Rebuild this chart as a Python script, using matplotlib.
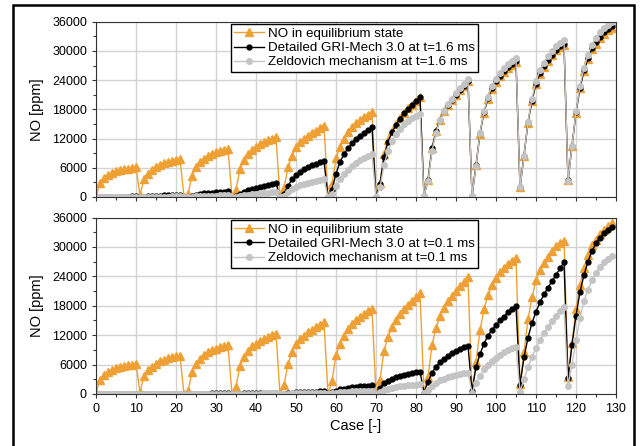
import numpy as np
import matplotlib
matplotlib.use("Agg")
import matplotlib.pyplot as plt
from matplotlib.patches import Rectangle
from matplotlib.ticker import MultipleLocator

plt.rcParams["font.family"] = ["Liberation Sans", "DejaVu Sans"]

cases = list(range(130))

# NO in equilibrium state (same in both panels), one row per sweep
no_equilibrium = [
    300, 2800, 3900, 4500, 4950, 5250, 5500, 5700, 5850, 6000, 6100,
    400, 3700, 4800, 5600, 6200, 6650, 7000, 7250, 7450, 7650, 7800,
    0, 600, 4400, 6100, 7200, 7900, 8500, 8900, 9200, 9500, 9700, 9900,
    0, 1500, 5800, 7600, 8800, 9700, 10300, 10850, 11300, 11650, 12000, 12250,
    0, 1900, 6100, 8500, 10200, 11200, 11900, 12550, 13100, 13600, 14150, 14650,
    0, 2600, 7950, 10200, 11900, 13250, 14300, 15100, 15800, 16350, 16900, 17400,
    0, 2950, 8800, 11700, 13600, 15000, 16300, 17300, 18200, 18950, 19700, 20500,
    300, 3500, 10000, 13500, 15900, 17600, 18900, 20000, 21000, 22000, 22900, 23800,
    300, 6500, 13000, 17300, 20200, 22200, 23700, 24800, 25700, 26500, 27200, 27800,
    2000, 8500, 15300, 19700, 23200, 25300, 26700, 28000, 29100, 30100, 30800, 31300,
    3400, 10500, 17300, 22300, 25800, 28300, 30300, 31500, 32600, 33500, 34200, 34800,
]

gri_16ms = [
    0, 20, 40, 50, 60, 70, 80, 90, 100, 110, 120,
    0, 80, 150, 200, 250, 290, 330, 360, 390, 420, 450,
    0, 50, 250, 450, 600, 720, 820, 900, 980, 1050, 1120, 1180,
    0, 150, 600, 1000, 1400, 1700, 1950, 2150, 2350, 2550, 2700, 2850,
    0, 700, 2300, 3600, 4500, 5200, 5700, 6150, 6550, 6850, 7150, 7400,
    0, 1500, 4800, 7200, 8800, 10000, 11000, 11900, 12600, 13200, 13800, 14400,
    0, 2700, 8300, 11300, 13300, 14800, 16100, 17200, 18100, 18900, 19700, 20500,
    300, 3500, 10000, 13500, 15900, 17600, 18900, 20000, 21000, 22000, 22900, 23900,
    300, 6500, 13100, 17400, 20300, 22300, 23800, 24900, 25800, 26600, 27300, 27900,
    2000, 8500, 15400, 19800, 23300, 25400, 26850, 28150, 29250, 30250, 30950, 31500,
    3400, 10500, 17400, 22400, 26000, 28500, 30500, 31800, 32900, 33800, 34500, 35100,
]

zeld_16ms = [
    0, 5, 10, 15, 18, 20, 22, 24, 26, 28, 30,
    0, 20, 40, 55, 70, 80, 90, 100, 110, 115, 120,
    0, 15, 70, 130, 170, 210, 240, 270, 290, 310, 330, 350,
    0, 50, 200, 350, 480, 580, 670, 750, 820, 880, 940, 1000,
    0, 300, 1000, 1600, 2050, 2400, 2700, 2950, 3150, 3300, 3450, 3600,
    0, 700, 2200, 3600, 4700, 5600, 6300, 6900, 7500, 8000, 8400, 8800,
    0, 2000, 6500, 9500, 11500, 12900, 14000, 14900, 15600, 16200, 16700, 17100,
    300, 3300, 9500, 13200, 15800, 17600, 19000, 20200, 21300, 22300, 23300, 24300,
    300, 6400, 13200, 17600, 20600, 22700, 24300, 25500, 26500, 27300, 28000, 28600,
    2000, 8400, 15500, 20200, 23800, 26000, 27600, 28900, 30000, 31000, 31700, 32300,
    3300, 10400, 17600, 22800, 26500, 29200, 31300, 32700, 33800, 34700, 35400, 35950,
]

gri_01ms = [
    0, 5, 8, 10, 12, 14, 16, 18, 20, 22, 24,
    0, 10, 20, 28, 35, 40, 45, 50, 55, 58, 60,
    0, 10, 40, 60, 75, 88, 98, 106, 113, 120, 126, 130,
    0, 20, 70, 110, 140, 160, 180, 195, 210, 225, 240, 250,
    0, 60, 180, 260, 320, 360, 400, 430, 460, 490, 510, 530,
    0, 350, 700, 950, 1100, 1250, 1350, 1450, 1550, 1650, 1730, 1800,
    0, 1300, 2200, 2750, 3150, 3450, 3700, 3900, 4100, 4250, 4400, 4550,
    300, 2500, 4300, 5600, 6500, 7200, 7800, 8300, 8800, 9200, 9550, 9850,
    600, 5500, 8100, 10300, 11900, 13050, 14100, 15000, 15800, 16700, 17400, 17950,
    1800, 7500, 11500, 14500, 16800, 18700, 20300, 21700, 23000, 24300, 25600, 26900,
    3200, 10000, 16000, 20800, 24300, 27000, 29200, 30700, 31900, 32800, 33500, 34000,
]

zeld_01ms = [
    0, 2, 4, 5, 6, 7, 8, 9, 10, 11, 12,
    0, 5, 10, 14, 17, 20, 22, 24, 26, 28, 30,
    0, 5, 18, 28, 36, 42, 47, 51, 55, 58, 61, 64,
    0, 10, 35, 55, 70, 80, 90, 98, 105, 112, 118, 124,
    0, 30, 85, 125, 155, 180, 200, 215, 230, 245, 255, 265,
    0, 150, 280, 370, 430, 480, 530, 570, 610, 640, 670, 700,
    0, 500, 850, 1050, 1250, 1400, 1530, 1640, 1740, 1820, 1890, 1950,
    150, 900, 1700, 2300, 2800, 3150, 3450, 3700, 3900, 4050, 4200, 4300,
    300, 2200, 3700, 5000, 6000, 6800, 7400, 8000, 8500, 8900, 9300, 9600,
    500, 3000, 5500, 7600, 9400, 11000, 12400, 13700, 14900, 15900, 16900, 17700,
    1600, 6000, 11000, 15500, 19000, 21300, 23200, 24700, 25900, 26900, 27600, 28200,
]

ORANGE = "#EFA035"
GREY = "#C4C4C4"
FS = 9


def draw_panel(ax, gri, zeld, t_label):
    ax.plot(cases, no_equilibrium, color=ORANGE, lw=1.0, marker="^", ms=5.5,
            mec=ORANGE, mfc=ORANGE, label="NO in equilibrium state")
    ax.plot(cases, gri, color="black", lw=1.0, marker="o", ms=3.5,
            label=f"Detailed GRI-Mech 3.0 at t={t_label} ms")
    ax.plot(cases, zeld, color=GREY, lw=1.0, marker="o", ms=4,
            label=f"Zeldovich mechanism at t={t_label} ms")

    ax.set_xlim(0, 130)
    ax.set_ylim(0, 36000)
    ax.xaxis.set_major_locator(MultipleLocator(10))
    ax.xaxis.set_minor_locator(MultipleLocator(5))
    ax.yaxis.set_major_locator(MultipleLocator(6000))
    ax.yaxis.set_minor_locator(MultipleLocator(3000))
    ax.grid(True, which="major", color="#D2D2D2", lw=1.0)
    ax.set_axisbelow(True)
    ax.tick_params(which="both", labelsize=FS, length=3, width=0.8, color="#333333")
    ax.tick_params(which="minor", length=2)
    for sp in ax.spines.values():
        sp.set_color("#333333")
        sp.set_linewidth(0.8)
    ax.set_ylabel("NO [ppm]", fontsize=10.5, labelpad=6)

    leg = ax.legend(loc="upper center", bbox_to_anchor=(0.497, 0.995), fontsize=9.6,
                    frameon=True, fancybox=False, framealpha=1, edgecolor="black",
                    handlelength=2.2, handletextpad=0.3, labelspacing=0.14,
                    borderpad=0.28, borderaxespad=0.1)
    leg.get_frame().set_linewidth(1.0)


fig = plt.figure(figsize=(6.4, 4.46), dpi=100)
ax1 = fig.add_axes([0.15, 0.5583, 0.8125, 0.3930])
ax2 = fig.add_axes([0.15, 0.1166, 0.8125, 0.3957])

draw_panel(ax1, gri_16ms, zeld_16ms, "1.6")
draw_panel(ax2, gri_01ms, zeld_01ms, "0.1")
ax1.tick_params(labelbottom=False)
ax2.set_xlabel("Case [-]", fontsize=10.5, labelpad=3)

# outer frame of the original figure
fig.patches.append(Rectangle((13 / 640, -0.05), 621 / 640, 1.0 - 5 / 446 + 0.05,
                             transform=fig.transFigure, fill=False,
                             edgecolor="black", lw=1.8))

fig.savefig("out.png", dpi=100)
